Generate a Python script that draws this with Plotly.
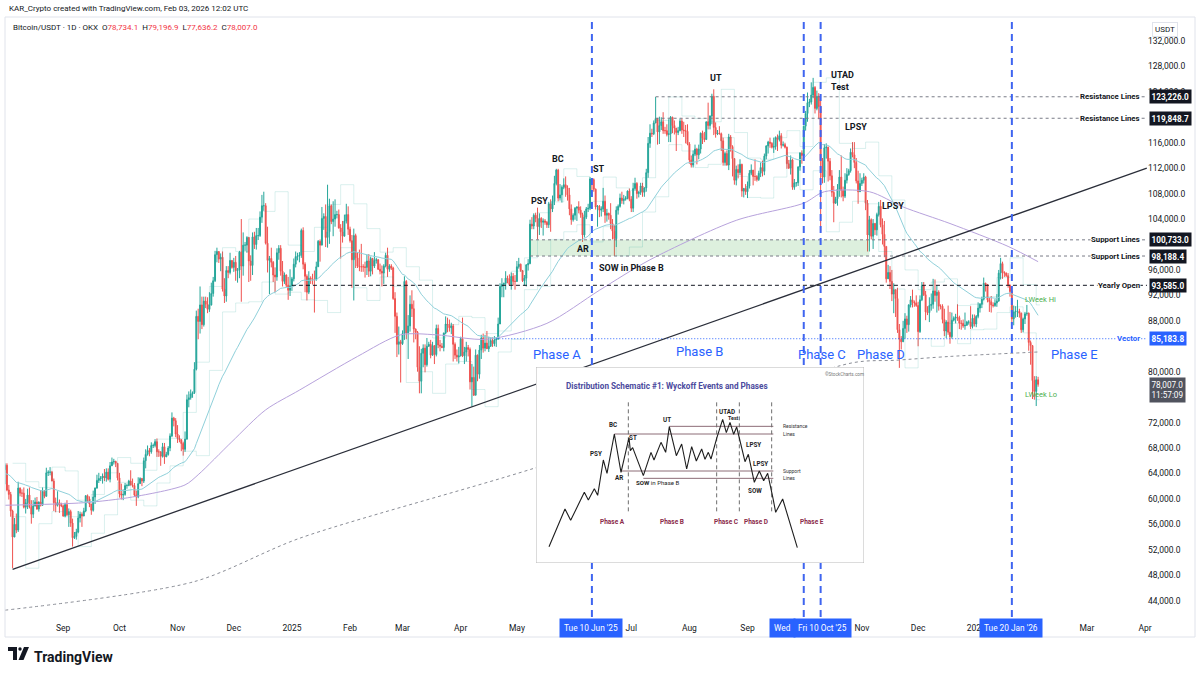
import numpy as np
import pandas as pd
import plotly.graph_objects as go

# ---------------- DATA (prices in thousands of USDT, daily, from 2024-08-01) ----------------
START_DATE = "2024-08-01"
FIRST_OPEN_K = 64.6

close_k = [
    # Aug 2024
    65.3, 61.4, 60.7, 58.1, 54.0, 56.0, 55.1, 61.7, 60.9, 60.9, 58.7, 59.4, 60.6, 58.7, 57.6, 58.9, 59.5, 58.4, 59.5, 59.0, 61.2, 60.4, 64.1, 64.2, 64.2, 62.8, 59.4, 59.0, 59.4, 59.1, 58.9,
    # Sep 2024
    57.3, 59.1, 57.5, 58.0, 56.2, 53.9, 54.1, 54.8, 57.0, 57.6, 57.3, 58.1, 60.5, 60.0, 59.2, 58.2, 60.3, 61.7, 62.9, 63.2, 63.3, 63.6, 63.3, 64.2, 63.1, 65.2, 65.8, 65.9, 65.6, 63.3,
    # Oct 2024
    60.8, 60.6, 60.7, 62.1, 62.1, 62.8, 62.2, 62.1, 60.6, 60.3, 62.4, 63.2, 62.8, 66.0, 67.0, 67.6, 67.4, 68.4, 68.4, 69.0, 67.4, 67.4, 66.7, 68.2, 66.6, 67.0, 68.0, 69.9, 72.7, 72.3, 70.2,
    # Nov 2024
    69.5, 69.3, 68.7, 67.8, 69.4, 75.6, 75.9, 76.5, 76.7, 80.4, 88.7, 87.9, 90.5, 87.4, 91.1, 90.6, 89.8, 90.5, 92.3, 94.3, 98.4, 98.9, 97.7, 98.0, 93.0, 91.9, 95.9, 95.6, 97.5, 96.4,
    # Dec 2024
    97.2, 95.9, 96.0, 98.8, 96.6, 99.9, 99.9, 101.1, 97.4, 96.7, 101.2, 100.0, 101.4, 101.4, 104.3, 106.1, 106.1, 100.2, 97.5, 97.8, 97.2, 95.2, 94.9, 98.7, 99.4, 95.8, 94.2, 95.2, 93.6, 92.8, 93.5,
    # Jan 2025
    94.6, 96.9, 98.1, 98.2, 98.3, 102.2, 96.9, 95.0, 92.5, 94.7, 94.6, 94.5, 94.5, 96.5, 100.5, 99.9, 104.1, 104.4, 101.1, 102.0, 106.1, 103.6, 104.0, 104.7, 104.7, 102.6, 102.0, 101.3, 103.7, 104.7, 102.4,
    # Feb 2025
    100.6, 97.6, 101.4, 97.9, 96.6, 96.5, 96.5, 96.5, 96.4, 97.4, 95.8, 97.8, 96.6, 97.5, 97.6, 96.1, 95.8, 95.5, 96.6, 98.3, 96.1, 96.6, 96.3, 91.5, 88.7, 84.3, 84.7, 84.4,
    # Mar 2025
    86.0, 94.2, 86.1, 87.2, 90.6, 89.9, 86.7, 86.2, 80.7, 78.5, 82.9, 83.7, 81.1, 84.0, 84.3, 82.6, 84.1, 82.7, 86.8, 84.2, 84.0, 83.8, 86.1, 87.5, 87.4, 86.9, 87.2, 84.3, 82.6, 82.3, 82.5,
    # Apr 2025
    85.2, 82.5, 83.1, 83.8, 83.5, 78.4, 79.1, 76.3, 82.6, 79.6, 83.4, 85.3, 83.7, 84.5, 83.6, 84.0, 84.9, 84.4, 85.0, 85.1, 87.5, 93.4, 93.7, 93.9, 94.7, 94.6, 93.7, 95.0, 94.2, 94.2,
    # May 2025
    96.5, 96.9, 95.9, 94.3, 94.7, 96.8, 97.0, 103.2, 102.9, 104.6, 104.1, 102.8, 104.1, 103.5, 103.7, 103.5, 103.1, 106.4, 105.6, 106.8, 109.6, 111.7, 107.3, 107.8, 109.0, 109.4, 108.9, 107.8, 105.6, 103.9, 104.6,
    # Jun 2025
    105.7, 105.9, 105.4, 104.7, 101.5, 104.3, 105.6, 105.7, 110.3, 110.2, 108.7, 105.9, 106.0, 105.4, 105.6, 106.8, 104.6, 104.9, 104.6, 103.3, 102.1, 100.9, 105.4, 106.0, 107.3, 106.9, 107.1, 107.3, 108.4, 107.1,
    # Jul 2025
    105.7, 108.8, 109.6, 108.0, 108.2, 109.2, 108.2, 108.9, 111.3, 115.9, 117.5, 117.4, 119.1, 119.8, 117.7, 118.7, 119.3, 117.9, 117.9, 117.3, 117.4, 120.0, 118.7, 118.3, 117.6, 117.9, 119.4, 118.0, 117.9, 117.8, 115.8,
    # Aug 2025
    113.3, 112.5, 114.2, 115.0, 114.1, 115.0, 117.5, 116.7, 116.5, 119.3, 118.7, 120.2, 123.3, 118.4, 117.4, 117.5, 117.4, 116.3, 112.9, 114.3, 112.5, 116.9, 115.4, 113.5, 110.1, 111.8, 111.3, 112.6, 108.4, 108.8, 108.3,
    # Sep 2025
    109.2, 111.2, 111.7, 110.7, 110.7, 110.2, 111.2, 112.1, 111.5, 113.9, 115.5, 116.1, 115.9, 115.3, 115.4, 116.8, 116.5, 117.1, 115.6, 115.7, 115.3, 112.7, 112.0, 113.3, 109.0, 109.7, 109.7, 112.2, 114.4, 114.0,
    # Oct 2025
    118.6, 120.6, 122.3, 122.4, 123.5, 124.7, 121.4, 123.3, 121.7, 113.2, 110.6, 115.2, 115.3, 113.1, 110.8, 108.2, 106.5, 107.2, 108.7, 110.6, 108.5, 107.6, 110.1, 111.0, 111.6, 114.5, 114.1, 112.9, 110.0, 108.3, 109.6,
    # Nov 2025
    110.1, 110.6, 106.5, 101.5, 103.9, 101.3, 103.3, 102.3, 104.7, 106.0, 103.1, 101.6, 99.7, 94.6, 95.6, 94.2, 92.2, 92.9, 91.5, 86.6, 85.1, 84.7, 86.8, 88.3, 87.4, 90.5, 91.3, 90.9, 90.8, 90.4,
    # Dec 2025
    86.3, 91.3, 93.5, 92.1, 89.4, 89.3, 90.4, 90.6, 92.7, 92.0, 92.5, 90.3, 90.3, 88.2, 86.4, 87.8, 86.2, 85.5, 88.1, 88.4, 88.6, 88.5, 87.6, 87.6, 87.2, 87.3, 87.8, 87.8, 87.1, 88.4, 87.5,
    # Jan 2026
    88.7, 90.0, 90.6, 91.4, 93.9, 93.7, 91.3, 91.0, 90.5, 90.4, 90.8, 91.1, 95.5, 97.0, 95.6, 95.5, 95.1, 93.6, 92.6, 88.3, 89.4, 89.5, 89.5, 89.2, 86.6, 88.3, 89.1, 89.2, 84.6, 84.1, 78.6,
    # Feb 2026
    76.9, 78.7341, 78.007,
]

high_k = [
    65.6, 65.6, 62.2, 61.1, 58.3, 57.0, 57.7, 62.7, 61.8, 61.5, 61.8, 60.0, 61.6, 61.8, 59.8, 59.8, 60.2, 60.3, 59.6, 61.4, 61.8, 61.4, 64.9, 64.5, 65.0, 64.4, 63.2, 60.2, 61.2, 59.9, 59.4,
    59.1, 59.4, 59.8, 58.5, 58.3, 56.9, 54.8, 55.3, 58.1, 58.0, 57.9, 58.6, 60.6, 60.7, 60.4, 59.2, 61.3, 61.8, 63.8, 64.1, 63.6, 64.0, 64.7, 64.8, 64.8, 65.8, 66.5, 66.3, 66.0, 65.6,
    64.1, 62.4, 61.5, 62.5, 62.4, 63.0, 64.5, 63.2, 62.5, 61.3, 63.4, 63.4, 63.3, 66.5, 67.8, 68.4, 68.0, 68.9, 68.7, 69.4, 69.5, 67.8, 67.5, 68.8, 68.8, 67.4, 68.3, 70.3, 73.6, 72.9, 72.7,
    71.6, 70.0, 69.4, 69.0, 70.6, 76.4, 76.9, 77.2, 76.9, 81.5, 89.6, 89.9, 93.4, 91.8, 91.8, 91.8, 91.7, 92.5, 94.0, 94.9, 99.0, 99.5, 98.7, 98.6, 98.9, 94.7, 96.6, 96.6, 98.7, 97.4,
    97.9, 98.2, 96.3, 99.0, 104.0, 101.9, 100.4, 101.3, 101.2, 98.3, 101.9, 102.0, 102.6, 102.6, 105.2, 107.8, 108.3, 106.5, 102.8, 98.2, 99.5, 97.4, 96.4, 99.4, 99.9, 99.9, 97.4, 95.6, 95.3, 94.9, 96.1,
    94.9, 97.8, 98.9, 98.7, 98.8, 102.5, 102.7, 97.2, 95.3, 95.8, 95.0, 95.4, 95.9, 97.3, 100.7, 100.8, 105.9, 104.9, 106.3, 109.4, 107.2, 106.3, 106.8, 107.1, 105.3, 105.5, 103.2, 103.7, 104.7, 106.4, 106.0,
    102.8, 101.5, 102.5, 101.7, 98.8, 99.2, 100.1, 96.9, 97.3, 98.4, 98.5, 98.1, 97.9, 98.8, 97.9, 97.7, 97.0, 96.7, 96.9, 98.7, 99.5, 96.9, 96.9, 96.5, 92.5, 89.3, 87.1, 85.0,
    86.5, 95.0, 94.4, 88.9, 92.0, 92.8, 91.2, 86.8, 86.4, 84.0, 83.6, 84.3, 84.3, 85.3, 84.7, 85.0, 84.7, 84.0, 87.4, 87.4, 85.0, 84.5, 86.1, 88.7, 88.5, 88.2, 87.7, 87.5, 84.6, 83.5, 83.9,
    85.5, 88.5, 83.9, 84.7, 84.2, 83.8, 81.2, 80.8, 83.5, 82.7, 84.2, 85.8, 86.0, 85.8, 86.4, 85.5, 85.4, 85.4, 85.6, 85.4, 88.5, 93.9, 94.7, 94.0, 95.8, 95.1, 95.3, 95.6, 95.5, 95.2,
    97.4, 97.9, 97.0, 96.0, 95.2, 96.9, 97.7, 103.9, 104.3, 104.9, 105.0, 105.8, 104.9, 104.3, 104.1, 104.0, 103.7, 106.7, 107.1, 107.7, 110.8, 111.9, 111.9, 109.5, 109.3, 110.4, 110.7, 109.3, 108.9, 106.3, 104.9,
    105.9, 106.0, 106.8, 106.0, 105.0, 105.3, 105.9, 106.4, 110.6, 110.4, 110.4, 108.8, 106.2, 106.2, 106.0, 108.9, 107.7, 105.6, 105.0, 106.5, 104.0, 103.1, 106.0, 106.3, 108.0, 108.3, 107.8, 107.6, 108.5, 108.8,
    107.6, 109.7, 110.5, 109.8, 108.4, 109.7, 109.7, 109.0, 111.9, 116.9, 118.9, 118.2, 119.5, 123.2, 119.9, 120.1, 120.0, 120.8, 118.5, 118.9, 119.7, 120.2, 120.1, 119.5, 118.2, 118.5, 119.8, 119.8, 119.3, 118.8, 118.9,
    116.1, 114.0, 114.8, 115.7, 115.2, 115.7, 117.6, 117.9, 117.7, 119.3, 122.3, 120.3, 123.7, 124.4, 119.2, 118.0, 118.6, 117.6, 116.8, 114.6, 114.8, 117.4, 117.2, 115.6, 113.6, 112.4, 112.6, 113.4, 112.7, 108.9, 109.5,
    109.9, 111.7, 112.6, 111.7, 113.4, 110.9, 111.6, 112.9, 113.2, 114.3, 115.6, 116.3, 116.8, 116.1, 116.8, 117.0, 117.3, 117.9, 117.5, 116.2, 116.0, 115.4, 113.3, 114.0, 113.5, 110.3, 109.8, 112.3, 114.5, 114.8,
    118.7, 121.0, 123.9, 122.9, 125.5, 126.2, 124.9, 124.2, 123.8, 122.6, 113.6, 115.8, 115.9, 115.4, 113.6, 111.7, 109.2, 107.5, 109.5, 111.7, 114.0, 109.1, 111.2, 112.0, 111.9, 115.1, 116.1, 116.1, 113.6, 111.6, 111.2,
    110.5, 111.2, 110.8, 107.0, 104.5, 104.1, 104.0, 103.4, 105.0, 106.7, 107.0, 104.1, 103.7, 99.7, 96.8, 96.6, 96.0, 93.9, 92.8, 93.2, 87.5, 85.6, 88.0, 89.2, 88.8, 90.6, 91.9, 92.9, 91.2, 92.0,
    91.0, 92.0, 94.1, 94.1, 92.7, 90.3, 91.7, 92.3, 94.6, 94.5, 93.6, 92.8, 90.6, 90.6, 89.9, 88.1, 90.4, 89.4, 89.3, 88.7, 89.1, 90.6, 88.8, 88.1, 88.2, 89.3, 88.0, 88.1, 90.3, 89.0, 89.0,
    88.9, 90.9, 90.8, 91.8, 94.8, 94.0, 93.8, 91.6, 91.9, 90.9, 91.4, 92.2, 96.0, 97.9, 97.3, 95.8, 95.6, 95.5, 93.7, 92.8, 90.4, 90.3, 91.3, 89.9, 89.3, 88.5, 89.4, 90.5, 89.3, 84.9, 84.2,
    79.3, 79.3, 79.1969,
]

low_k = [
    62.3, 61.2, 59.9, 57.2, 49.1, 54.0, 54.6, 54.8, 60.4, 60.3, 58.5, 57.7, 58.4, 58.5, 56.1, 57.0, 58.8, 58.3, 58.0, 58.8, 58.9, 60.1, 60.4, 63.6, 63.7, 62.8, 58.1, 57.9, 58.8, 57.8, 58.7,
    57.2, 57.1, 57.3, 55.6, 55.6, 52.5, 53.7, 53.6, 54.6, 56.3, 55.6, 57.3, 57.9, 59.4, 58.7, 57.5, 58.0, 59.2, 61.6, 62.5, 62.8, 62.4, 62.8, 62.7, 62.9, 62.6, 65.3, 65.4, 65.0, 62.9,
    60.2, 59.9, 59.8, 60.5, 61.6, 62.0, 62.1, 61.8, 60.3, 58.9, 60.1, 62.4, 62.0, 62.5, 64.8, 66.8, 66.7, 67.1, 68.0, 68.1, 66.6, 66.6, 65.2, 66.5, 65.5, 66.6, 66.8, 67.5, 69.7, 71.4, 69.7,
    68.8, 68.9, 67.5, 66.8, 67.4, 69.3, 74.4, 75.6, 75.9, 76.5, 80.2, 85.1, 86.0, 86.7, 87.1, 90.0, 89.2, 89.4, 90.4, 91.8, 94.1, 97.2, 97.1, 95.8, 92.6, 90.8, 91.0, 94.7, 95.3, 96.2,
    95.7, 94.3, 94.0, 94.7, 91.0, 95.1, 99.0, 98.7, 94.1, 94.3, 95.2, 99.3, 99.2, 100.7, 101.2, 103.4, 105.3, 100.0, 95.6, 92.2, 96.4, 94.1, 92.5, 94.3, 97.6, 95.1, 93.4, 93.8, 93.3, 91.3, 91.9,
    92.7, 94.2, 96.4, 97.5, 97.2, 97.9, 96.1, 92.5, 91.2, 92.2, 93.8, 93.7, 89.3, 94.3, 96.5, 97.3, 100.1, 102.3, 99.6, 99.5, 100.1, 103.2, 101.3, 102.8, 104.1, 102.5, 97.8, 100.3, 101.3, 103.3, 101.5,
    100.3, 93.2, 91.2, 96.3, 96.3, 95.8, 95.7, 95.7, 94.8, 95.2, 94.9, 95.0, 95.3, 96.3, 97.0, 96.0, 95.3, 93.4, 93.8, 96.4, 94.9, 95.7, 96.0, 91.3, 86.1, 82.3, 82.7, 78.3,
    84.2, 85.0, 85.1, 82.0, 86.3, 88.6, 84.6, 85.1, 80.0, 76.6, 76.6, 80.7, 79.9, 80.8, 83.9, 82.1, 82.5, 81.2, 82.4, 83.7, 83.2, 83.7, 83.2, 85.9, 86.2, 86.3, 85.9, 81.6, 82.0, 81.6, 81.3,
    82.4, 82.3, 81.2, 81.6, 82.4, 77.2, 74.5, 76.2, 76.7, 78.5, 78.9, 82.0, 83.0, 83.2, 83.6, 83.1, 83.9, 83.9, 84.0, 83.9, 85.2, 87.6, 91.7, 91.7, 92.9, 93.9, 93.6, 92.9, 93.5, 92.9,
    94.1, 96.2, 95.7, 94.1, 93.5, 93.4, 95.9, 96.9, 102.4, 102.4, 103.5, 100.8, 101.5, 102.6, 101.4, 103.1, 102.6, 102.6, 102.0, 105.1, 106.2, 109.3, 106.8, 106.9, 106.6, 108.7, 107.5, 106.9, 104.6, 103.1, 103.6,
    103.9, 103.7, 104.9, 104.2, 100.4, 101.1, 104.0, 105.1, 105.4, 108.3, 108.3, 105.5, 102.8, 104.3, 104.4, 105.1, 103.4, 103.6, 103.9, 102.4, 100.8, 98.2, 99.6, 104.7, 105.8, 106.4, 106.3, 106.9, 107.1, 106.8,
    105.1, 105.1, 108.5, 107.2, 107.4, 107.8, 107.5, 107.5, 108.3, 110.5, 115.2, 116.9, 117.2, 119.1, 115.7, 115.8, 118.0, 117.4, 117.4, 117.0, 116.1, 116.1, 117.5, 117.3, 114.7, 117.2, 117.8, 117.4, 116.9, 115.9, 115.6,
    112.7, 112.1, 112.1, 113.9, 112.6, 113.4, 114.3, 115.8, 116.1, 116.5, 118.1, 118.1, 118.9, 117.2, 116.8, 117.2, 117.3, 114.7, 112.4, 112.4, 112.4, 111.7, 114.6, 110.7, 109.4, 109.3, 110.4, 110.9, 107.5, 107.4, 107.8,
    107.3, 108.8, 110.9, 109.3, 110.0, 109.9, 110.0, 110.6, 110.7, 110.9, 113.4, 114.3, 115.2, 115.1, 114.4, 114.9, 114.7, 116.2, 115.1, 115.4, 115.1, 111.9, 111.9, 111.0, 108.6, 108.6, 109.1, 109.2, 111.6, 112.7,
    113.9, 117.9, 119.3, 121.6, 122.0, 123.0, 120.6, 121.1, 119.7, 102.0, 109.6, 109.7, 113.5, 109.9, 110.1, 107.5, 103.5, 106.4, 106.1, 107.5, 107.4, 106.8, 107.3, 109.6, 110.8, 111.3, 113.7, 112.0, 109.6, 106.4, 108.9,
    109.2, 109.6, 105.4, 98.9, 98.9, 100.8, 99.3, 101.5, 101.4, 104.4, 102.7, 100.0, 98.0, 94.0, 94.7, 93.0, 91.1, 89.2, 88.6, 86.1, 80.6, 83.5, 84.7, 85.2, 86.1, 86.3, 90.1, 90.1, 90.2, 90.2,
    84.0, 86.1, 91.1, 91.9, 88.1, 88.9, 87.8, 89.6, 89.9, 91.0, 89.3, 89.6, 89.8, 87.6, 85.6, 85.3, 85.8, 84.4, 85.2, 87.9, 87.6, 88.0, 86.7, 86.6, 86.9, 86.6, 87.2, 87.4, 86.7, 86.8, 87.1,
    87.0, 88.4, 89.3, 90.0, 91.2, 92.6, 90.9, 89.4, 89.3, 90.1, 90.2, 90.2, 91.0, 94.5, 94.6, 94.9, 94.9, 93.2, 91.8, 87.5, 87.3, 88.5, 88.6, 88.5, 86.1, 86.2, 87.5, 88.8, 83.3, 81.1, 75.7,
    75.6, 74.6, 77.6362,
]

# moving averages
EMA_LEN = 50
EMA_SEED_K = 64.0
ma200_dates = ["2024-08-01", "2024-09-12", "2024-10-08", "2024-11-05", "2024-11-12", "2024-11-30",
               "2024-12-18", "2025-01-05", "2025-02-05", "2025-02-28", "2025-03-19", "2025-04-15",
               "2025-05-17", "2025-06-14", "2025-07-11", "2025-08-26", "2025-10-01", "2025-10-12",
               "2025-11-05", "2025-11-23", "2025-12-18", "2026-01-18", "2026-02-03"]
ma200_k = [59.0, 59.4, 60.3, 62.2, 63.8, 69.0, 74.0, 77.1, 82.4, 85.8, 85.8, 85.1,
           87.6, 92.8, 97.6, 103.8, 106.5, 108.3, 108.3, 105.9, 103.3, 99.7, 97.3]
ltma_dates = ["2024-08-01", "2024-11-10", "2025-01-05", "2025-05-10", "2025-10-27",
              "2025-11-19", "2025-12-18", "2026-02-03"]
ltma_k = [42.5, 47.0, 53.8, 64.8, 81.4, 81.8, 82.4, 83.1]

# drawings
RESISTANCE = [123226.0, 119848.7]
RESISTANCE_START = "2025-07-14"
SUPPORT = [100733.0, 98188.4]
SUPPORT_START = "2025-05-08"
SUPPORT_BOX_END = "2025-11-05"
YEARLY_OPEN = 93585.0
YEARLY_OPEN_START = "2025-01-01"
VECTOR = 85183.8
VECTOR_START = "2025-04-20"
TREND_DATES = ["2024-08-05", "2026-04-02"]
TREND_K = [48.93, 112.0]
PHASE_LINES = ["2025-06-10", "2025-10-01", "2025-10-10", "2026-01-20"]
LAST_CLOSE = 78007.0
PRICE_TICKS = [44000, 48000, 52000, 56000, 60000, 64000, 68000, 72000, 80000, 88000, 92000, 96000,
               104000, 108000, 112000, 116000, 124000, 128000, 132000]
HIDDEN_MONTH_TICKS = ["2025-06-01", "2025-10-01", "2026-02-01"]   # covered by date boxes

# Wyckoff schematic (inset picture coordinates)
sch_x = [42, 90, 107, 148, 160, 178, 188, 205, 216, 238, 258, 282, 286, 293, 325, 348, 357, 378, 392, 403,
         424, 440, 455, 470, 484, 500, 510, 520, 528, 545, 563, 574, 585, 596, 605, 618, 630, 640, 658, 673,
         686, 698, 708, 714, 722, 743, 787]
sch_y = [545, 432, 466, 382, 405, 371, 391, 285, 325, 207, 322, 218, 257, 248, 332, 262, 285, 232, 262, 185,
         272, 237, 312, 245, 288, 252, 283, 262, 282, 220, 163, 203, 172, 208, 186, 236, 290, 268, 352, 318,
         347, 325, 368, 400, 442, 402, 548]

# ---------------- geometry ----------------
FONT = "Roboto, 'Open Sans', Arial, sans-serif"
TXT = "#131722"
BLUE = "#2962ff"
UP = "#26a69a"
DN = "#ef5350"
PL, PR, PT, PB = 5, 1147, 17, 617      # plot area in pixels
X0, X1 = "2024-07-31 23:00", "2026-04-02 02:00"
Y0, Y1 = 41430, 135770


def pxx(px):
    return (px - PL) / (PR - PL)


def pxy(py):
    return (PB - py) / (PB - PT)


dates = pd.date_range(START_DATE, periods=len(close_k), freq="D")
c = np.array(close_k) * 1000
o = np.r_[FIRST_OPEN_K * 1000, c[:-1]]
h = np.maximum.reduce([np.array(high_k) * 1000, o, c])
l = np.minimum.reduce([np.array(low_k) * 1000, o, c])

ema = [EMA_SEED_K * 1000]
alpha = 2 / (EMA_LEN + 1)
for v in c[1:]:
    ema.append(ema[-1] + alpha * (v - ema[-1]))

df = pd.DataFrame({"h": h, "l": l}, index=dates)
wk = df.resample("W-MON", label="left", closed="left").agg({"h": "max", "l": "min"})
prev = wk.shift(1).dropna()
wx = list(prev.index) + [dates[-1] + pd.Timedelta(days=1)]
whi = list(prev["h"]) + [prev["h"].iloc[-1]]
wlo = list(prev["l"]) + [prev["l"].iloc[-1]]

fig = go.Figure()

# support band
fig.add_trace(go.Scatter(x=[SUPPORT_START, SUPPORT_BOX_END, SUPPORT_BOX_END, SUPPORT_START, SUPPORT_START],
                         y=[SUPPORT[1], SUPPORT[1], SUPPORT[0], SUPPORT[0], SUPPORT[1]],
                         fill="toself", fillcolor="rgba(102,187,106,0.22)", line=dict(width=0),
                         mode="lines", hoverinfo="skip"))
# weekly hi/lo steps
for yy in (whi, wlo):
    fig.add_trace(go.Scatter(x=wx, y=yy, mode="lines", line=dict(color="rgba(38,166,154,0.17)", width=1, shape="hv"),
                             hoverinfo="skip"))
# long-term dotted
fig.add_trace(go.Scatter(x=ltma_dates, y=np.array(ltma_k) * 1000, mode="lines",
                         line=dict(color="#8a8d96", width=1, dash="dot", shape="spline", smoothing=0.8), hoverinfo="skip"))
# 200 MA (purple)
fig.add_trace(go.Scatter(x=ma200_dates, y=np.array(ma200_k) * 1000, mode="lines",
                         line=dict(color="#b7a2dc", width=1, shape="spline", smoothing=0.8), hoverinfo="skip"))
# EMA 50
fig.add_trace(go.Scatter(x=dates, y=ema, mode="lines", line=dict(color="#8fd0da", width=1), hoverinfo="skip"))

# candles
fig.add_trace(go.Candlestick(x=dates, open=o, high=h, low=l, close=c,
                             increasing=dict(line=dict(color=UP, width=1), fillcolor=UP),
                             decreasing=dict(line=dict(color=DN, width=1), fillcolor=DN),
                             whiskerwidth=0, hoverinfo="skip"))

# horizontal lines
for v in RESISTANCE:
    fig.add_trace(go.Scatter(x=[RESISTANCE_START, X1], y=[v, v], mode="lines",
                             line=dict(color="#787b86", width=1, dash="dot"), hoverinfo="skip"))
for v in SUPPORT:
    fig.add_trace(go.Scatter(x=[SUPPORT_START, X1], y=[v, v], mode="lines",
                             line=dict(color="#787b86", width=1, dash="dot"), hoverinfo="skip"))
fig.add_trace(go.Scatter(x=[YEARLY_OPEN_START, X1], y=[YEARLY_OPEN, YEARLY_OPEN], mode="lines",
                         line=dict(color="#131722", width=1, dash="4px,3px"), hoverinfo="skip"))
fig.add_trace(go.Scatter(x=[VECTOR_START, X1], y=[VECTOR, VECTOR], mode="lines",
                         line=dict(color=BLUE, width=1, dash="1px,2px"), hoverinfo="skip"))
# trend line
fig.add_trace(go.Scatter(x=TREND_DATES, y=np.array(TREND_K) * 1000, mode="lines",
                         line=dict(color="#2a2e39", width=1.3), hoverinfo="skip"))
# phase vertical lines
for d in PHASE_LINES:
    fig.add_trace(go.Scatter(x=[d, d], y=[Y0, Y1], mode="lines",
                             line=dict(color="#3f65f0", width=2, dash="7px,5px"), hoverinfo="skip"))

# ---------------- inset: Wyckoff schematic ----------------
IX = dict(xaxis="x2", yaxis="y2", hoverinfo="skip")
fig.add_trace(go.Scatter(x=[3, 987, 987, 3, 3], y=[6, 6, 594, 594, 6], fill="toself", fillcolor="white",
                         mode="lines", line=dict(color="#b8b8b8", width=1), **IX))
for (xa, xb, yv) in [(403, 715, 184), (238, 715, 207), (258, 715, 318), (325, 715, 340)]:
    fig.add_trace(go.Scatter(x=[xa, xb], y=[yv, yv], mode="lines", line=dict(color="#8c6c76", width=1), **IX))
for xv in [280, 545, 613, 710]:
    fig.add_trace(go.Scatter(x=[xv, xv], y=[112, 440], mode="lines",
                             line=dict(color="#6e6e6e", width=1, dash="4px,3px"), **IX))
fig.add_trace(go.Scatter(x=sch_x, y=sch_y, mode="lines", line=dict(color="#1e1e1e", width=1.1), **IX))

# ---------------- annotations ----------------
ann = []


def A(text, px, py, size=8, color=TXT, bold=False, xa="center", ya="middle", **kw):
    ann.append(dict(text=f"<b>{text}</b>" if bold else text, x=pxx(px), y=pxy(py), xref="paper", yref="paper",
                    showarrow=False, xanchor=xa, yanchor=ya,
                    font=dict(size=size, color=color, family=FONT), **kw))


def I(text, x, y, size=6.3, color="#1e1e1e", bold=True, xa="center"):
    ann.append(dict(text=f"<b>{text}</b>" if bold else text, x=x, y=y, xref="x2", yref="y2", showarrow=False,
                    xanchor=xa, yanchor="middle", font=dict(size=size, color=color, family=FONT)))


# header
A("KAR_Crypto created with TradingView.com, Feb 03, 2026 12:02 UTC", 7, 9, size=8, xa="left")
red = "#f23645"
A(f"Bitcoin/USDT · 1D · OKX  O<span style='color:{red}'>78,734.1</span>  H<span style='color:{red}'>79,196.9</span>"
  f"  L<span style='color:{red}'>77,636.2</span>  C<span style='color:{red}'>78,007.0</span>", 11, 27, size=8, xa="left")

# event labels
for t, px, py in [("PSY", 539, 200.7), ("BC", 558.3, 159), ("ST", 599, 169.3), ("AR", 583.3, 249.3),
                  ("SOW in Phase B", 631.7, 268.3), ("UT", 716, 78.3), ("LPSY", 856, 126.7), ("LPSY", 893, 206.5)]:
    A(t, px, py, size=9, bold=True)
A("<b>UTAD</b><br><b>Test</b>", 828.5, 81, size=9, xa="left", align="left")

# phases
for t, px, py in [("Phase A", 557.4, 354), ("Phase B", 699, 351), ("Phase C", 821.5, 354),
                  ("Phase D", 880.8, 354), ("Phase E", 1074, 354)]:
    A(t, px, py, size=13, color=BLUE)

A("LWeek Hi", 1040.5, 299.3, size=7.5, color="#4caf50")
A("LWeek Lo", 1041, 394.3, size=7.5, color="#4caf50")

# right-side labels & tags
for t, v in [("Resistance Lines", RESISTANCE[0]), ("Resistance Lines", RESISTANCE[1]),
             ("Support Lines", SUPPORT[0]), ("Support Lines", SUPPORT[1]), ("Yearly Open", YEARLY_OPEN)]:
    ann.append(dict(text=f"<b>{t}</b>", x=pxx(1141), y=v, xref="paper", yref="y", showarrow=False,
                    xanchor="right", yanchor="middle", bgcolor="white", borderpad=0,
                    font=dict(size=7.8, color=TXT, family=FONT)))
    ann.append(dict(text=f"<b>{v:,.1f}</b>", x=pxx(1149), y=v, xref="paper", yref="y", showarrow=False,
                    xanchor="left", yanchor="middle", bgcolor="#131722", borderpad=1.5,
                    font=dict(size=8.2, color="white", family=FONT)))
ann.append(dict(text="<b>Vector</b>", x=pxx(1141), y=VECTOR, xref="paper", yref="y", showarrow=False,
                xanchor="right", yanchor="middle", bgcolor="white", borderpad=0,
                font=dict(size=7.8, color=BLUE, family=FONT)))
ann.append(dict(text=f"<b>{VECTOR:,.1f}</b>", x=pxx(1149), y=VECTOR, xref="paper", yref="y", showarrow=False,
                xanchor="left", yanchor="middle", bgcolor=BLUE, borderpad=1.5,
                font=dict(size=8.2, color="white", family=FONT)))
ann.append(dict(text=f"{LAST_CLOSE:,.1f}<br>11:57:09", x=pxx(1149), y=LAST_CLOSE, xref="paper", yref="y",
                showarrow=False, xanchor="left", yanchor="top", yshift=7, bgcolor="#50535e", borderpad=1.5,
                align="left", font=dict(size=8.2, color="white", family=FONT)))
A("USDT", 1152, 29, size=8, xa="left", bgcolor="white", bordercolor="#e0e3eb", borderwidth=1, borderpad=2)

# date boxes on time axis
for t, px in [("Wed", 782.5), ("Fri 10 Oct '25", 822), ("Tue 10 Jun '25", 591), ("Tue 20 Jan '26", 1011)]:
    A(t, px, 628, size=8.3, color="white", bgcolor=BLUE, borderpad=4)

# TradingView footer
A("<b>TradingView</b>", 32, 657, size=14, xa="left")

# inset texts
I("Distribution Schematic #1: Wyckoff Events and Phases", 395, 62, size=8.2, color="#4b4b9e")
I("©StockCharts.com", 928, 27, size=4.6, color="#777", bold=False)
for t, x, y in [("PSY", 182, 268), ("BC", 234, 181), ("ST", 294, 220), ("AR", 252, 340), ("UT", 397, 165),
                ("UTAD", 575, 140), ("LPSY", 655, 241), ("LPSY", 676, 298), ("SOW", 660, 378)]:
    I(t, x, y)
I("Test", 595, 160, size=5.3)
ann.append(dict(text="<b>SOW</b> in Phase B", x=370, y=352, xref="x2", yref="y2", showarrow=False,
                font=dict(size=6.1, color="#1e1e1e", family=FONT)))
for t, y in [("Resistance", 184), ("Lines", 207), ("Support", 318), ("Lines", 340)]:
    I(t, 738, y, size=5.0, color="#333", bold=False, xa="left")
for t, x in [("Phase A", 232), ("Phase B", 410), ("Phase C", 575), ("Phase D", 662), ("Phase E", 832)]:
    I(t, x, 472, size=6.5, color="#8b2a4a")

# ---------------- shapes ----------------
shapes = [
    dict(type="rect", xref="paper", yref="paper", x0=pxx(5), x1=pxx(1195), y0=pxy(637), y1=pxy(17),
         line=dict(color="#e0e3eb", width=1), fillcolor="rgba(0,0,0,0)", layer="above"),
    # TradingView logo
    dict(type="path", xref="paper", yref="paper", fillcolor="#131722", line=dict(width=0),
         path=f"M {pxx(8)},{pxy(647)} L {pxx(17)},{pxy(647)} L {pxx(17)},{pxy(660)} L {pxx(13)},{pxy(660)} "
              f"L {pxx(13)},{pxy(651)} L {pxx(8)},{pxy(651)} Z"),
    dict(type="circle", xref="paper", yref="paper", fillcolor="#131722", line=dict(width=0),
         x0=pxx(18.3), x1=pxx(21.7), y0=pxy(650.7), y1=pxy(647.3)),
    dict(type="path", xref="paper", yref="paper", fillcolor="#131722", line=dict(width=0),
         path=f"M {pxx(24)},{pxy(647)} L {pxx(29)},{pxy(647)} L {pxx(23.5)},{pxy(660)} L {pxx(18.5)},{pxy(660)} Z"),
]

month_ticks = pd.date_range("2024-09-01", "2026-04-01", freq="MS")
hidden = set(pd.to_datetime(HIDDEN_MONTH_TICKS))
tick_text = ["" if d in hidden else
             "2025" if (d.month == 1 and d.year == 2025) else "2026" if (d.month == 1 and d.year == 2026)
             else d.strftime("%b") for d in month_ticks]

fig.update_layout(
    width=1200, height=676, margin=dict(l=PL, r=1200 - PR, t=PT, b=676 - PB),
    paper_bgcolor="white", plot_bgcolor="white", showlegend=False, hovermode=False,
    font=dict(family=FONT, color=TXT),
    xaxis=dict(type="date", range=[X0, X1], tickvals=list(month_ticks), ticktext=tick_text,
               showgrid=False, zeroline=False, showline=False, ticks="", rangeslider=dict(visible=False),
               ticklabelstandoff=4,
               tickfont=dict(size=8.5, color=TXT, family=FONT), fixedrange=True),
    yaxis=dict(range=[Y0, Y1], side="right", tickvals=PRICE_TICKS, tickformat=",.1f",
               showgrid=False, zeroline=False, showline=False, ticks="",
               tickfont=dict(size=8.5, color=TXT, family=FONT), fixedrange=True),
    xaxis2=dict(domain=[pxx(536), pxx(864)], range=[3, 987], visible=False, anchor="y2", fixedrange=True),
    yaxis2=dict(domain=[pxy(563), pxy(367)], range=[594, 6], visible=False, anchor="x2", fixedrange=True),
    annotations=ann, shapes=shapes,
)

fig.write_html("out.html", config={"displayModeBar": False, "staticPlot": True},
               post_script="document.body.style.margin='0';document.body.style.overflow='hidden';")
